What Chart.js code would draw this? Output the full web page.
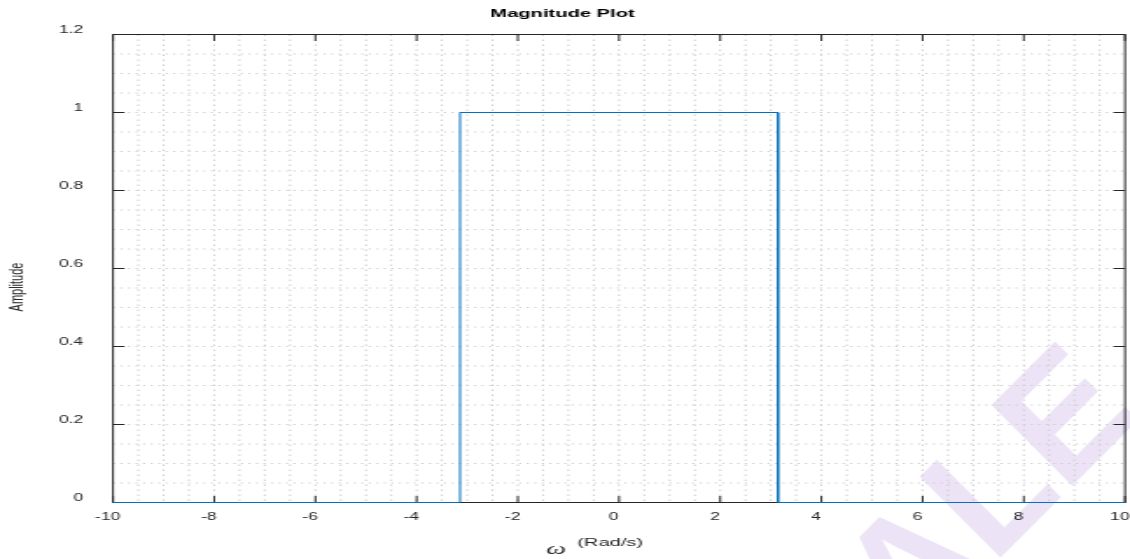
<!DOCTYPE html>
<html>
<head>
<meta charset="utf-8">
<title>Magnitude Plot</title>
<script src="https://cdn.jsdelivr.net/npm/chart.js@4.4.1/dist/chart.umd.min.js"></script>
<style>
  html, body { margin: 0; padding: 0; background: #fff; }
  #plot { display: block; }
</style>
</head>
<body>
<!-- the canvas is drawn narrow and stretched out to the page width -->
<canvas id="plot" width="646" height="559" style="width:1130px;height:559px"></canvas>
<script>
// ideal low-pass response: 1 for |w| < pi, 0 elsewhere
var omega = [-10, -3.1416, -3.1416, 3.1416, 3.1416, 10];
var amplitude = [0, 0, 1, 1, 0, 0];
var xTicks = [-10, -8, -6, -4, -2, 0, 2, 4, 6, 8, 10];
var yTicks = [0, 0.2, 0.4, 0.6, 0.8, 1, 1.2];

var STRETCH = 1130 / 646;
var FONT = '"Liberation Sans", Arial, Helvetica, sans-serif';
var INK = '#262626';
var LINE = '#0072bd';

var points = omega.map(function(w, i) {
	return { x: w, y: amplitude[i] };
});

var framePlugin = {
	id: 'frame',
	beforeDraw: function(chart) {
		var ctx = chart.ctx;
		ctx.save();
		ctx.fillStyle = '#fff';
		ctx.fillRect(0, 0, chart.width, chart.height);
		// watermark, laid out in page pixels so the letters keep their shape
		ctx.scale(1 / STRETCH, 1);
		ctx.translate(908, 650);
		ctx.rotate(-Math.PI / 4);
		ctx.fillStyle = '#ece4f6';
		ctx.font = 'bold 166px ' + FONT;
		ctx.fillText('ALE', 0, 0);
		ctx.restore();
	},
	beforeDatasetsDraw: function(chart) {
		var ctx = chart.ctx;
		var a = chart.chartArea;
		var xs = chart.scales.x;
		var ys = chart.scales.y;
		var i, p;
		ctx.save();

		// dotted grid, minor and major alike
		ctx.strokeStyle = '#cdcdcd';
		ctx.lineWidth = 1;
		ctx.setLineDash([1.5, 3.5]);
		for (i = 1; i < 40; i++) {
			p = xs.getPixelForValue(-10 + i * 0.5);
			ctx.beginPath();
			ctx.moveTo(p, a.top);
			ctx.lineTo(p, a.bottom);
			ctx.stroke();
		}
		ctx.setLineDash([1.2, 3.1]);
		for (i = 1; i < 24; i++) {
			p = ys.getPixelForValue(i * 0.05);
			ctx.beginPath();
			ctx.moveTo(a.left, p);
			ctx.lineTo(a.right, p);
			ctx.stroke();
		}
		ctx.setLineDash([]);

		// axes box with inward ticks
		ctx.strokeStyle = INK;
		ctx.lineWidth = 1;
		ctx.strokeRect(a.left, a.top, a.right - a.left, a.bottom - a.top);
		ctx.beginPath();
		xTicks.forEach(function(v) {
			var px = xs.getPixelForValue(v);
			ctx.moveTo(px, a.bottom);
			ctx.lineTo(px, a.bottom - 6.5);
			ctx.moveTo(px, a.top);
			ctx.lineTo(px, a.top + 6.5);
		});
		yTicks.forEach(function(v) {
			var py = ys.getPixelForValue(v);
			ctx.moveTo(a.left, py);
			ctx.lineTo(a.left + 6.6, py);
			ctx.moveTo(a.right, py);
			ctx.lineTo(a.right - 6.6, py);
		});
		ctx.stroke();
		ctx.restore();
	},
	afterDraw: function(chart) {
		var ctx = chart.ctx;
		ctx.save();
		ctx.fillStyle = INK;

		ctx.font = '11px ' + FONT;
		ctx.textAlign = 'center';
		ctx.textBaseline = 'middle';
		ctx.translate(9.7, 287);
		ctx.rotate(-Math.PI / 2);
		ctx.fillText('Amplitude', 0, 0);
		ctx.setTransform(1, 0, 0, 1, 0, 0);

		ctx.textBaseline = 'alphabetic';
		ctx.font = 'italic 16px "Liberation Serif", "DejaVu Serif", serif';
		ctx.fillText('ω', 318, 554);
		ctx.textAlign = 'left';
		ctx.font = '11.5px ' + FONT;
		ctx.fillText('(Rad/s)', 330, 546);
		ctx.restore();
	}
};

var chartdata = {
	datasets: [
		{
			label: 'Magnitude',
			data: points,
			borderColor: LINE,
			borderWidth: 1,
			pointRadius: 0,
			tension: 0,
			fill: false,
			clip: false
		}
	]
};

var ctx = document.getElementById('plot');

var magPlot = new Chart(ctx, {
	type: 'line',
	data: chartdata,
	plugins: [framePlugin],
	options: {
		responsive: false,
		devicePixelRatio: 1,
		animation: false,
		layout: { padding: { left: 0, right: 2.85, top: 0, bottom: 0 } },
		plugins: {
			legend: { display: false },
			tooltip: { enabled: false },
			title: {
				display: true,
				text: 'Magnitude Plot',
				color: '#000',
				font: { family: FONT, size: 11.5, weight: 'bold', lineHeight: 1.2 },
				padding: { top: 7, bottom: 13.7 }
			}
		},
		scales: {
			x: {
				type: 'linear',
				min: -10,
				max: 10,
				afterBuildTicks: function(scale) {
					scale.ticks = xTicks.map(function(v) { return { value: v }; });
				},
				afterFit: function(scale) {
					scale.height = 56.5;
					scale.paddingLeft = 0;
					scale.paddingRight = 0;
				},
				grid: { display: false, drawTicks: false },
				border: { display: false },
				ticks: {
					font: { family: FONT, size: 10 },
					color: INK,
					padding: 8.5,
					labelOffset: -3,
					maxRotation: 0,
					autoSkip: false,
					callback: function(v) { return String(v); }
				}
			},
			y: {
				type: 'linear',
				min: 0,
				max: 1.2,
				afterBuildTicks: function(scale) {
					scale.ticks = yTicks.map(function(v) { return { value: v }; });
				},
				afterFit: function(scale) {
					scale.width = 64.6;
					scale.paddingTop = 0;
					scale.paddingBottom = 0;
				},
				grid: { display: false, drawTicks: false },
				border: { display: false },
				ticks: {
					font: { family: FONT, size: 10 },
					color: INK,
					padding: 17,
					labelOffset: -4,
					callback: function(v) { return String(v); }
				}
			}
		}
	}
});
</script>
</body>
</html>
